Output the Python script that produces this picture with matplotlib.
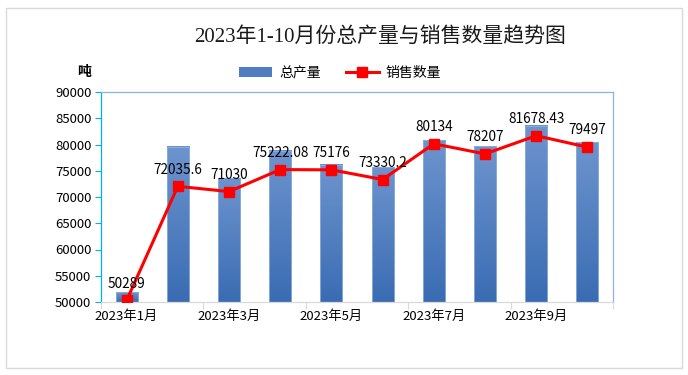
import matplotlib
matplotlib.use('Agg')
import matplotlib.pyplot as plt
import numpy as np
from matplotlib.patches import Rectangle
from matplotlib.lines import Line2D
from matplotlib.colors import LinearSegmentedColormap

plt.rcParams['font.family'] = ['Noto Sans CJK SC', 'DejaVu Sans']

# data
months = ['2023年1月', '2023年2月', '2023年3月', '2023年4月', '2023年5月',
          '2023年6月', '2023年7月', '2023年8月', '2023年9月', '2023年10月']
production = [51900, 79600, 73550, 78800, 76100, 75650, 80850, 79700, 83600, 80400]
sales = [50289, 72035.6, 71030, 75222.08, 75176, 73330.2, 80134, 78207, 81678.43, 79497]

BAR_TOP = '#6d94ce'
BAR_BOTTOM = '#3a6cb3'
LINE_RED = '#ff0000'

fig = plt.figure(figsize=(6.88, 3.75), dpi=100)
fig.patch.set_facecolor('white')
# outer chart border
fig.patches.append(Rectangle((6 / 688, 1 - 368 / 375), 676 / 688, 360 / 375,
                             transform=fig.transFigure, fill=False,
                             edgecolor='#d9d9d9', linewidth=1))

ax = fig.add_axes([101 / 688, 1 - 302 / 375, 512 / 688, 210 / 375])

x = np.arange(len(months))
bars = ax.bar(x, production, width=0.43, bottom=0, color='none',
              edgecolor='#8fb0dc', linewidth=0.6, zorder=3)

# vertical gradient fill per bar
cmap = LinearSegmentedColormap.from_list('bar', [BAR_BOTTOM, BAR_TOP])
grad = np.linspace(0, 1, 256).reshape(-1, 1)
for b in bars:
    x0, w, h = b.get_x(), b.get_width(), b.get_height()
    ax.imshow(grad, cmap=cmap, origin='lower', aspect='auto',
              extent=(x0, x0 + w, 50000, h), zorder=2)

ax.plot(x, sales, color=LINE_RED, linewidth=2.2, marker='s', markersize=7,
        markerfacecolor=LINE_RED, markeredgecolor=LINE_RED, zorder=4)

for xi, v in zip(x, sales):
    label = f'{v:.2f}'.rstrip('0').rstrip('.')
    ax.annotate(label, (xi, v), xytext=(0, 7), textcoords='offset points',
                ha='center', va='bottom', fontsize=9.8, color='#000000', zorder=5)

ax.set_xlim(-0.5, len(months) - 0.5)
ax.set_ylim(50000, 90000)
ax.set_yticks(np.arange(50000, 90001, 5000))
ax.tick_params(axis='y', labelsize=9.5, colors='#00b0f0', labelcolor='#000000',
               length=4, width=0.8, pad=3)

# x ticks: marks at every second category boundary, labels on odd months
ax.set_xticks(np.arange(-0.5, len(months), 2))
ax.set_xticklabels([])
ax.set_xticks(x[::2], minor=True)
ax.set_xticklabels(months[::2], minor=True)
ax.tick_params(axis='x', which='major', length=5, color='#d9d9d9', width=0.8)
ax.tick_params(axis='x', which='minor', length=0, labelsize=9.5, pad=6)

ax.spines['left'].set_color('#00b0f0')
ax.spines['bottom'].set_color('#d9d9d9')
ax.spines['top'].set_color('#8eb4e3')
ax.spines['right'].set_color('#8eb4e3')
for s in ax.spines.values():
    s.set_linewidth(0.9)

fig.text(380 / 688, 1 - 37 / 375, '2023年1-10月份总产量与销售数量趋势图',
         ha='center', va='center', fontsize=15, color='#1a1a1a',
         family=['Liberation Serif', 'Noto Sans CJK SC'])
fig.text(84 / 688, 1 - 72 / 375, '吨', ha='center', va='center',
         fontsize=10, fontweight='bold')

handles = [Rectangle((0, 0), 1, 1, facecolor='#4f7fc0', edgecolor='none'),
           Line2D([0], [0], color=LINE_RED, linewidth=2.2, marker='s',
                  markersize=7)]
fig.legend(handles, ['总产量', '销售数量'], loc='center',
           bbox_to_anchor=(340 / 688, 1 - 73 / 375), ncol=2, frameon=False,
           fontsize=10, handlelength=2.4, handleheight=0.7, columnspacing=1.8,
           handletextpad=0.5)

fig.savefig('out.png', dpi=100, facecolor='white')
